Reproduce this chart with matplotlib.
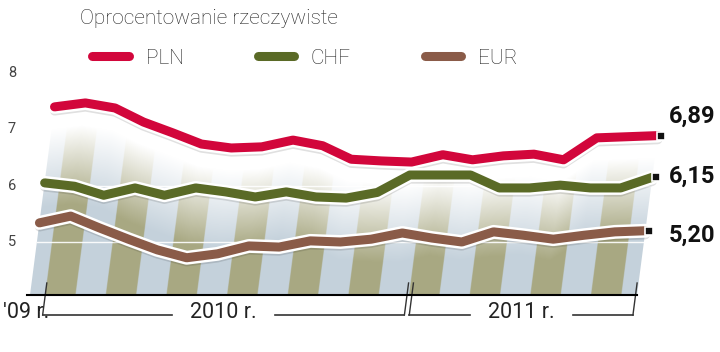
# -*- coding: utf-8 -*-

import numpy as np
import matplotlib.pyplot as plt
import matplotlib.patheffects as pe
from matplotlib.transforms import Affine2D
from matplotlib.lines import Line2D

# ---------------
# Data
# ---------------

months = ["XII", "I", "II", "III", "IV", "V", "VI", "VII", "VIII", "IX", "X",
          "XI", "XII", "I", "II", "III", "IV", "V", "VI", "VII", "VIII"]

pln = [7.40, 7.47, 7.38, 7.13, 6.94, 6.74, 6.67, 6.69, 6.81, 6.71, 6.47,
       6.44, 6.42, 6.55, 6.46, 6.53, 6.56, 6.46, 6.85, 6.87, 6.89]
chf = [6.05, 5.99, 5.83, 5.96, 5.83, 5.96, 5.89, 5.80, 5.89, 5.80, 5.78,
       5.88, 6.19, 6.19, 6.19, 5.96, 5.96, 6.01, 5.96, 5.96, 6.15]
eur = [5.34, 5.46, 5.25, 5.05, 4.86, 4.72, 4.79, 4.93, 4.91, 5.02, 5.00,
       5.05, 5.16, 5.07, 5.00, 5.18, 5.12, 5.05, 5.12, 5.18, 5.20]

series_names = ["PLN", "CHF", "EUR"]
title = "Oprocentowanie rzeczywiste"
y_ticks = [5, 6, 7, 8]
year_labels = ["'09 r.", "2010 r.", "2011 r."]

# -------------
# Style / layout
# -------------

colors = ["#d2063b", "#5a6a26", "#8a5b48"]
olive = (0.66, 0.66, 0.51)
blue = (0.77, 0.82, 0.86)
label_offsets = [0.35, 0.02, -0.08]

W, H = 720, 352
X0, DX = 30.0, 30.35      # pixel of first month, pixels per month
Y5, DY = 242.0, 56.3      # pixel of value 5, pixels per unit
BASE = 4.05               # floor of the chart
SKEW = 0.13 * DY / DX     # perspective slant


def mx(px):
    return (px - X0) / DX


def vy(py):
    return 5 + (Y5 - py) / DY


FONT = "Roboto"

fig = plt.figure(figsize=(W / 100, H / 100), dpi=100)
ax = fig.add_axes([0, 0, 1, 1])
ax.axis("off")

skew = Affine2D(np.array([[1, SKEW, -SKEW * BASE],
                          [0, 1, 0],
                          [0, 0, 1]])) + ax.transData

x = np.arange(len(months))
series = [pln, chf, eur]

# Striped floor, fading towards the top
top_v = 7.6
gm = np.linspace(0, x[-1], 1201)
gv = np.linspace(BASE, top_v, 300)
M, V = np.meshgrid(gm, gv)
top = np.interp(gm, x, pln)
alpha = np.clip((top - 0.4 - V) / 1.4, 0, 1)
odd = (np.floor(M + 0.5).astype(int) % 2) == 1
rgba = np.zeros(M.shape + (4,))
rgba[..., :3] = np.where(odd[..., None], olive, blue)
rgba[..., 3] = alpha
ax.imshow(rgba, extent=(0, x[-1], BASE, top_v), origin="lower",
          transform=skew, aspect="auto", interpolation="bilinear", zorder=1)

# faint white grid lines
for v in [5, 6]:
    ax.plot([0, x[-1]], [v, v], color="white", lw=1, alpha=0.9,
            transform=skew, zorder=2)

# Lines
for vals, c, off in zip(series, colors, label_offsets):
    ax.plot(x, vals, color=c, lw=6.5, solid_capstyle="round",
            solid_joinstyle="round", transform=skew, zorder=4,
            path_effects=[pe.SimpleLineShadow(offset=(0, -3), shadow_color="k", alpha=0.12),
                          pe.Stroke(linewidth=10, foreground="white"),
                          pe.Normal()])
    ax.plot(x[-1] + 0.12, vals[-1], marker="s", ms=5.5, mfc="#111",
            mec="white", mew=1.2, transform=skew, zorder=5)
    ax.text(mx(669), vals[-1] + off, f"{vals[-1]:.2f}".replace(".", ","),
            family=FONT, fontsize=17, fontweight="bold", color="#111",
            ha="left", va="center")

# Floor line
ax.plot([-0.1, x[-1]], [BASE, BASE], color="k", lw=1.5, zorder=3)

# Year brackets
BR, BT = vy(315), vy(283)
bc = "#333333"
for m in [0.5, 12.42, 12.58, 19.95]:
    ax.plot([m, m], [BR, BT], color=bc, lw=1, transform=skew)
gap = 1.7
for (a, b), lab in zip([(0.5, 12.42), (12.58, 19.95)], year_labels[1:]):
    c = (a + b) / 2
    ax.plot([a, c - gap], [BR, BR], color=bc, lw=1.2, transform=skew)
    ax.plot([c + gap, b], [BR, BR], color=bc, lw=1.2, transform=skew)
    ax.text(c, vy(313), lab, family=FONT, fontsize=15.5, color="#222",
            ha="center", va="center", transform=skew)
ax.text(0.72, vy(313), year_labels[0], family=FONT, fontsize=15.5,
        color="#222", ha="right", va="center", transform=skew)

# Y labels
for t in y_ticks:
    ax.text(mx(12), t, str(t), family=FONT, fontsize=10.5, color="#444",
            ha="center", va="center")

# Title and legend
fig.text(80 / W, 1 - 18 / H, title, family=FONT, fontsize=15,
         fontweight="light", color="#222", ha="left", va="center")

handles = [Line2D([], [], color=c, lw=6.5, solid_capstyle="round") for c in colors]
ax.legend(handles, series_names, ncol=3, loc="center left",
          bbox_to_anchor=(92.5 / W, 1 - 58 / H), frameon=False,
          handlelength=1.75, handletextpad=0.8, columnspacing=3.55,
          borderpad=0, borderaxespad=0,
          prop={"family": FONT, "size": 15, "weight": "light"},
          labelcolor="#222")

ax.set_xlim(mx(0), mx(W))
ax.set_ylim(vy(H), vy(0))

fig.savefig("out.png", dpi=100)
